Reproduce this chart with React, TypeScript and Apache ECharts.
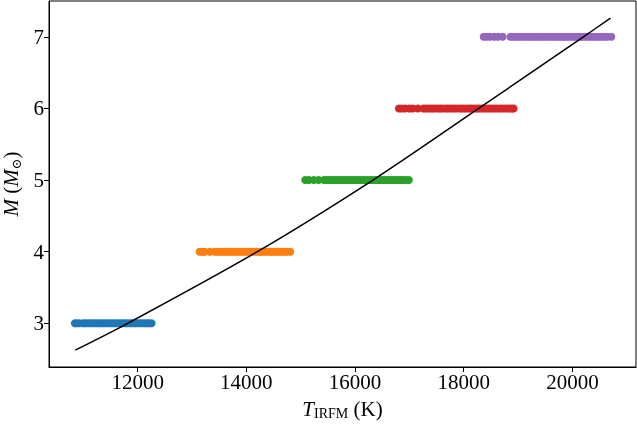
import React, { useEffect, useRef } from "react";
import * as echarts from "echarts";

const xTicks = [12000, 14000, 16000, 18000, 20000];
const yTicks = [3, 4, 5, 6, 7];
const masses = [3, 4, 5, 6, 7];
const colors = ["#1f77b4", "#ff7f0e", "#2ca02c", "#d62728", "#9467bd"];

const tempsM3 = [10844, 10880, 10930, 11000, 11040, 11090, 11130, 11180, 11230, 11270, 11320, 11360, 11410, 11450, 11500, 11540, 11590, 11630, 11680, 11720, 11770, 11810, 11860, 11900, 11950, 11990, 12040, 12080, 12130, 12170, 12210, 12257];
const tempsM4 = [13140, 13190, 13240, 13330, 13420, 13460, 13500, 13550, 13600, 13640, 13690, 13730, 13780, 13830, 13870, 13920, 13960, 14010, 14050, 14100, 14150, 14190, 14240, 14280, 14330, 14370, 14420, 14460, 14510, 14560, 14600, 14650, 14690, 14740, 14807];
const tempsM5 = [15083, 15150, 15240, 15330, 15430, 15480, 15530, 15580, 15620, 15670, 15720, 15760, 15810, 15860, 15900, 15950, 16000, 16040, 16090, 16140, 16180, 16230, 16280, 16320, 16370, 16420, 16460, 16510, 16560, 16600, 16650, 16700, 16740, 16790, 16840, 16880, 16930, 16991];
const tempsM6 = [16807, 16860, 16920, 17000, 17060, 17156, 17260, 17300, 17350, 17400, 17440, 17490, 17540, 17580, 17630, 17680, 17720, 17770, 17820, 17860, 17910, 17960, 18000, 18050, 18100, 18140, 18190, 18240, 18280, 18330, 18380, 18420, 18470, 18520, 18560, 18610, 18660, 18700, 18750, 18800, 18840, 18880, 18917];
const tempsM7 = [18367, 18420, 18480, 18560, 18630, 18716, 18860, 18910, 18960, 19000, 19050, 19100, 19150, 19190, 19240, 19290, 19330, 19380, 19430, 19470, 19520, 19570, 19610, 19660, 19710, 19750, 19800, 19850, 19890, 19940, 19990, 20030, 20080, 20130, 20170, 20220, 20270, 20310, 20360, 20410, 20450, 20500, 20550, 20590, 20640, 20716];
const groups = [tempsM3, tempsM4, tempsM5, tempsM6, tempsM7];

const fitT = [10850, 11817, 14202, 16330, 18275, 20202, 20700];
const fitM = [2.625, 3, 4, 5, 6, 7, 7.26];

const FONT = "Liberation Serif";

export default function App() {
  const ref = useRef<HTMLDivElement>(null);
  useEffect(() => {
    if (!ref.current) return;
    const chart = echarts.init(ref.current, null, { renderer: "svg" });
    const scatterSeries = groups.map((g, i) => ({
      type: "scatter",
      data: g.map((t) => [t, masses[i]]),
      symbolSize: 8,
      itemStyle: { color: colors[i], opacity: 1 },
      z: 2,
    }));
    chart.setOption({
      animation: false,
      grid: { left: 49, right: 1, top: 1, bottom: 61, outerBoundsMode: "none", containLabel: false, show: true, borderColor: "#000", borderWidth: 1, backgroundColor: "transparent" },
      xAxis: {
        type: "value",
        min: 10368,
        max: 21170,
        name: "{i|T}{s|IRFM} (K)",
        nameLocation: "middle",
        nameGap: 27,
        nameTextStyle: {
          fontFamily: FONT,
          fontSize: 21,
          color: "#000",
          lineHeight: 24,
          rich: {
            i: { fontFamily: FONT, fontStyle: "italic", fontSize: 21, color: "#000", lineHeight: 24 },
            s: { fontFamily: FONT, fontSize: 14, color: "#000", verticalAlign: "bottom", lineHeight: 24 },
          },
        },
        axisLine: { show: true, lineStyle: { color: "#000", width: 1 } },
        axisTick: { show: true, customValues: xTicks, length: 5, lineStyle: { color: "#000" } },
        axisLabel: { customValues: xTicks, fontFamily: FONT, fontSize: 21, color: "#000", margin: 4, formatter: (v: number) => String(v) },
        splitLine: { show: false },
      },
      yAxis: {
        type: "value",
        min: 2.39,
        max: 7.5,
        name: "{i|M} ({i|M}{s|⊙})",
        nameLocation: "middle",
        nameGap: 24,
        nameTextStyle: {
          fontFamily: FONT,
          fontSize: 21,
          color: "#000",
          lineHeight: 24,
          rich: {
            i: { fontFamily: FONT, fontStyle: "italic", fontSize: 21, color: "#000", lineHeight: 24 },
            s: { fontFamily: "DejaVu Serif", fontSize: 13, color: "#000", verticalAlign: "bottom", lineHeight: 24 },
          },
        },
        axisLine: { show: true, lineStyle: { color: "#000", width: 1 } },
        axisTick: { show: true, customValues: yTicks, length: 5, lineStyle: { color: "#000" } },
        axisLabel: { customValues: yTicks, fontFamily: FONT, fontSize: 21, color: "#000", margin: 5, formatter: (v: number) => String(v) },
        splitLine: { show: false },
      },
      series: [
        ...scatterSeries,
        {
          type: "line",
          data: fitT.map((t, i) => [t, fitM[i]]),
          smooth: 0.3,
          showSymbol: false,
          symbol: "none",
          lineStyle: { color: "#000", width: 1.5 },
          z: 3,
        },
      ],
    });
    return () => chart.dispose();
  }, []);
  return <div ref={ref} style={{ position: "fixed", left: 0, top: 0, width: 637, height: 428 }} />;
}
